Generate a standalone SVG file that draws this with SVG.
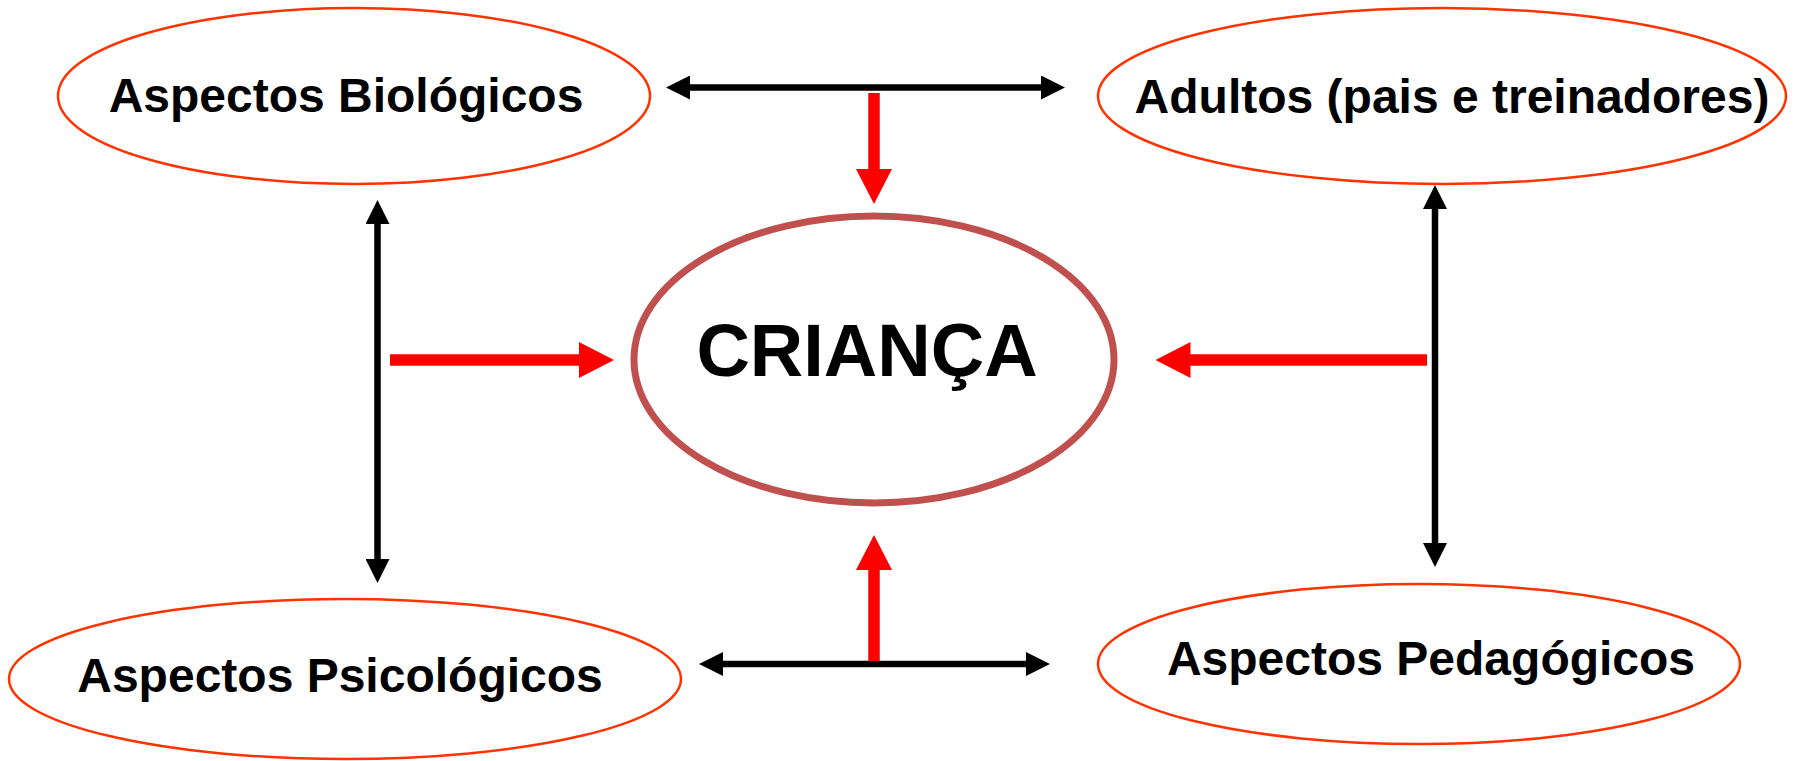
<svg xmlns="http://www.w3.org/2000/svg" width="1798" height="761" viewBox="0 0 1798 761">
<style>
.node{fill:#fff;stroke:#FF3300;stroke-width:2.5}
.center{fill:#fff;stroke:#C0504D;stroke-width:7}
.lbl{font-family:"Liberation Sans",Arial,sans-serif;font-weight:bold;font-size:48px;fill:#000;text-anchor:middle}
.big{font-size:74px}
.blk{stroke:#000;stroke-width:6.5;fill:none}
.red{stroke:#FF0000;stroke-width:11.5;fill:none}
</style>
<defs>
<marker id="ah" markerUnits="userSpaceOnUse" viewBox="0 0 24 24" markerWidth="24" markerHeight="24" refX="2" refY="12" orient="auto-start-reverse">
<path d="M0,0 L24,12 L0,24 z" fill="#000"/>
</marker>
<marker id="rh" markerUnits="userSpaceOnUse" viewBox="0 0 35 36" markerWidth="35" markerHeight="36" refX="2" refY="18" orient="auto">
<path d="M0,0 L35,18 L0,36 z" fill="#FF0000"/>
</marker>
</defs>
<rect width="1798" height="761" fill="#fff"/>
<g id="biologicos">
<ellipse class="node" cx="354" cy="96" rx="296" ry="88"/>
<text class="lbl" x="346" y="112">Aspectos Biológicos</text>
</g>
<g id="adultos">
<ellipse class="node" cx="1442" cy="96" rx="344" ry="88"/>
<text class="lbl" x="1452" y="113">Adultos (pais e treinadores)</text>
</g>
<g id="psicologicos">
<ellipse class="node" cx="345" cy="679" rx="336" ry="80"/>
<text class="lbl" x="340" y="692">Aspectos Psicológicos</text>
</g>
<g id="pedagogicos">
<ellipse class="node" cx="1419" cy="664" rx="321" ry="80"/>
<text class="lbl" x="1431" y="675">Aspectos Pedagógicos</text>
</g>
<g id="crianca">
<ellipse class="center" cx="874" cy="359.5" rx="240" ry="143.5"/>
<text class="lbl big" x="867" y="376">CRIANÇA</text>
</g>
<g id="connectors">
<line class="blk" x1="688" y1="87.5" x2="1043" y2="87.5" marker-start="url(#ah)" marker-end="url(#ah)"/>
<line class="blk" x1="377.5" y1="222" x2="377.5" y2="561" marker-start="url(#ah)" marker-end="url(#ah)"/>
<line class="blk" x1="1435" y1="207" x2="1435" y2="545" marker-start="url(#ah)" marker-end="url(#ah)"/>
<line class="blk" x1="721" y1="664" x2="1028" y2="664" marker-start="url(#ah)" marker-end="url(#ah)"/>
<line class="red" x1="874" y1="93" x2="874" y2="171" marker-end="url(#rh)"/>
<line class="red" x1="390" y1="360" x2="581" y2="360" marker-end="url(#rh)"/>
<line class="red" x1="1427" y1="360" x2="1188.5" y2="360" marker-end="url(#rh)"/>
<line class="red" x1="874" y1="661" x2="874" y2="568" marker-end="url(#rh)"/>
</g>
</svg>
